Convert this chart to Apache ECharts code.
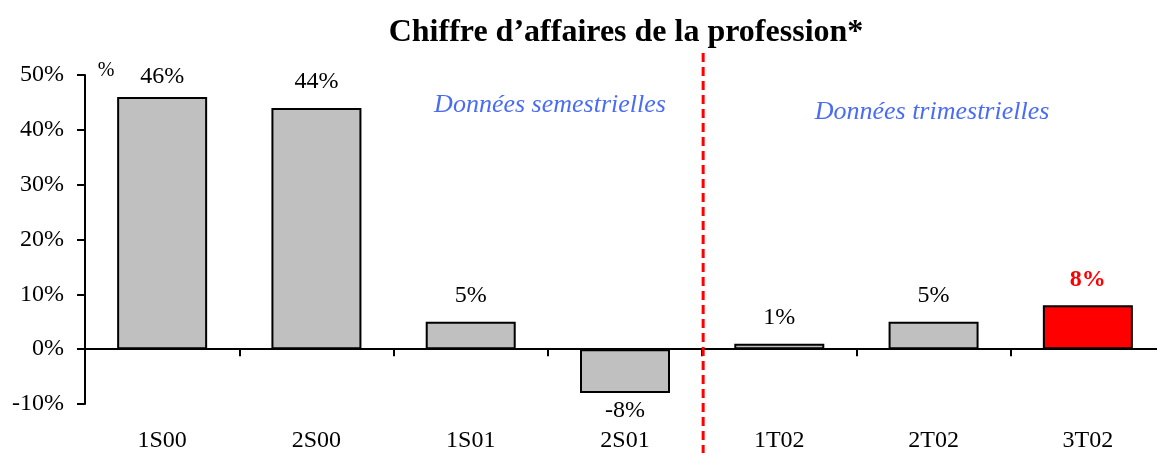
<!DOCTYPE html>
<html><head><meta charset="utf-8">
<script src="https://cdn.jsdelivr.net/npm/echarts@6/dist/echarts.min.js"></script>
<style>html,body{margin:0;padding:0;background:#fff}#c{width:1157px;height:453px}</style>
</head><body><div id="c"></div>
<script>
const title = "Chiffre d\u2019affaires de la profession*";
const categories = ["1S00","2S00","1S01","2S01","1T02","2T02","3T02"];
const values = [46, 44, 5, -8, 1, 5, 8];
const highlightIndex = 6;
const yTicks = { min: -10, max: 50, interval: 10 };
const noteSemestre = "Donn\u00e9es semestrielles";
const noteTrimestre = "Donn\u00e9es trimestrielles";
const unitLabel = "%";

const FONT = "'Liberation Serif','Times New Roman',serif";
const chart = echarts.init(document.getElementById('c'), null, {renderer:'canvas'});

const data = values.map((v, i) => {
  const hi = i === highlightIndex;
  return {
    value: v,
    itemStyle: { color: hi ? '#ff0000' : '#c0c0c0' },
    label: {
      position: v < 0 ? 'bottom' : 'top',
      distance: v < 0 ? 6 : (i === 0 ? 8 : 14),
      color: hi ? '#ff0000' : '#000',
      fontWeight: hi ? 'bold' : 'normal'
    }
  };
});

chart.setOption({
  animation: false,
  title: {
    text: title, left: 621, textAlign: 'center', top: 12,
    textStyle: { fontFamily: FONT, fontSize: 32, fontWeight: 'bold', color: '#000' }
  },
  grid: { left: 85, width: 1080, top: 75, bottom: 49, containLabel: false, outerBoundsMode: 'none' },
  xAxis: [{
    type: 'category', data: categories,
    axisLine: { onZero: true, lineStyle: { color: '#000', width: 2 } },
    axisTick: { show: true, inside: false, length: 7, lineStyle: { color: '#000', width: 2 } },
    axisLabel: { show: false }
  }, {
    type: 'category', data: categories, position: 'bottom',
    axisLine: { show: false, onZero: false }, axisTick: { show: false },
    axisLabel: { show: true, margin: 25, fontFamily: FONT, fontSize: 24, color: '#000' }
  }],
  yAxis: {
    type: 'value', min: yTicks.min, max: yTicks.max, interval: yTicks.interval,
    splitLine: { show: false },
    axisLine: { show: true, lineStyle: { color: '#000', width: 2 } },
    axisTick: { show: true, length: 8, lineStyle: { color: '#000', width: 2 } },
    axisLabel: { formatter: '{value}%', margin: 21, fontFamily: FONT, fontSize: 24, color: '#000' }
  },
  series: [{
    type: 'bar', data: data, barWidth: 90,
    itemStyle: { borderColor: '#000', borderWidth: 2 },
    label: { show: true, formatter: p => p.value + '%', fontFamily: FONT, fontSize: 24 }
  }]
});

function addGraphics() {
  const xa = chart.convertToPixel({xAxisIndex:0}, categories[3]);
  const xb = chart.convertToPixel({xAxisIndex:0}, categories[4]);
  const sepX = (xa + xb) / 2 + 1;
  chart.setOption({
    graphic: [
      { type: 'line', shape: { x1: sepX, y1: 53, x2: sepX, y2: 453 },
        style: { stroke: '#ff0000', lineWidth: 3, lineDash: [9, 5] }, z: 10 },
      { type: 'text', x: 550, y: 105, style: { text: noteSemestre, textAlign: 'center', textVerticalAlign: 'middle',
        font: "italic 26px 'Liberation Serif', serif", fill: '#4a6cf5' } },
      { type: 'text', x: 932, y: 112, style: { text: noteTrimestre, textAlign: 'center', textVerticalAlign: 'middle',
        font: "italic 26px 'Liberation Serif', serif", fill: '#4a6cf5' } },
      { type: 'text', x: 106, y: 71, style: { text: unitLabel, textAlign: 'center', textVerticalAlign: 'middle',
        font: "20px 'Liberation Serif', serif", fill: '#000' } }
    ]
  });
}
addGraphics();
</script></body></html>
